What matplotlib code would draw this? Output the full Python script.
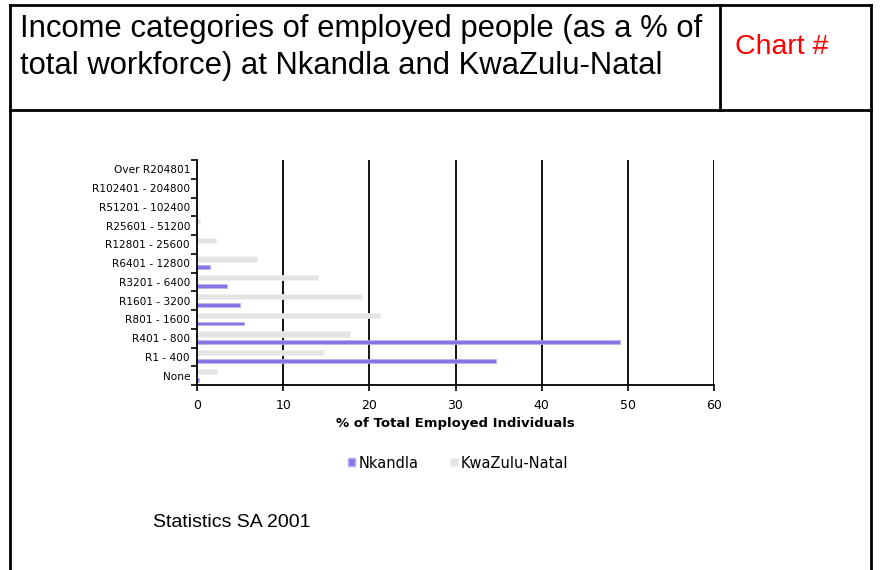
import matplotlib
matplotlib.use("Agg")
import matplotlib.pyplot as plt
import numpy as np
from matplotlib.lines import Line2D
from matplotlib.patches import Patch

categories = [
    "None", "R1 - 400", "R401 - 800", "R801 - 1600", "R1601 - 3200",
    "R3201 - 6400", "R6401 - 12800", "R12801 - 25600", "R25601 - 51200",
    "R51201 - 102400", "R102401 - 204800", "Over R204801",
]
nkandla = [0.2, 34.7, 49.1, 5.4, 5.0, 3.5, 1.5, 0.0, 0.0, 0.0, 0.0, 0.0]
kzn = [2.3, 14.7, 17.8, 21.2, 19.2, 14.1, 7.0, 2.2, 0.3, 0.1, 0.0, 0.0]
xticks = [0, 10, 20, 30, 40, 50, 60]

W, H = 880, 570
fig = plt.figure(figsize=(W / 100, H / 100), dpi=100)


def fx(px):
    return px / W


def fy(py):
    return 1 - py / H


# frame of the table
lw = 2.0
for (x0, y0, x1, y1) in [
    (10, 5, 871, 5), (10, 5, 10, 570), (871, 5, 871, 570),
    (10, 110, 871, 110), (720, 5, 720, 110),
]:
    fig.add_artist(Line2D([fx(x0), fx(x1)], [fy(y0), fy(y1)],
                          transform=fig.transFigure, color="black", lw=lw))

title_font = ["Liberation Sans", "DejaVu Sans"]
fig.text(fx(20), fy(37), "Income categories of employed people (as a % of",
         fontsize=22.3, family=title_font, va="baseline", ha="left")
fig.text(fx(20), fy(74), "total workforce) at Nkandla and KwaZulu-Natal",
         fontsize=22.3, family=title_font, va="baseline", ha="left")
fig.text(fx(735), fy(54), "Chart #", fontsize=20.5, family=title_font,
         color="red", va="baseline", ha="left")
fig.text(fx(153), fy(527), "Statistics SA 2001", fontsize=14,
         family=title_font, va="baseline", ha="left")

ax = fig.add_axes([fx(197), fy(385), fx(714 - 197), (385 - 160) / H])
y = np.arange(len(categories))
ax.barh(y + 0.22, kzn, height=0.28, color="#e4e4e4", edgecolor="#f0f0f0", lw=0.5)
ax.barh(y - 0.22, nkandla, height=0.2, color="#8676e4", edgecolor="#b8b0f0", lw=0.5)

ax.set_xlim(0, 60)
ax.set_ylim(-0.5, len(categories) - 0.5)
ax.set_xticks(xticks)
ax.set_xticklabels([str(t) for t in xticks], fontsize=9)
ax.set_yticks(y)
ax.set_yticklabels(categories, fontsize=7.6)
ax.set_yticks(np.arange(-0.5, len(categories), 1.0), minor=True)
ax.tick_params(axis="y", which="major", length=0, pad=5)
ax.tick_params(axis="y", which="minor", length=4, width=1.2)
ax.tick_params(axis="x", which="major", length=4, width=1.2, pad=6)

ax.set_xlabel("% of Total Employed Individuals", fontsize=9.5, fontweight="bold",
              labelpad=4)
for v in xticks[1:]:
    ax.axvline(v, color="black", lw=1.3, zorder=0.5)
for s in ["top", "right"]:
    ax.spines[s].set_visible(False)
ax.spines["left"].set_linewidth(1.3)
ax.spines["bottom"].set_linewidth(1.3)

handles = [Patch(facecolor="#8676e4", edgecolor="#b8b0f0"),
           Patch(facecolor="#e4e4e4", edgecolor="#f0f0f0")]
fig.legend(handles, ["Nkandla", "KwaZulu-Natal"], loc="center",
           bbox_to_anchor=(fx(458), fy(463)), ncol=2, frameon=False,
           fontsize=10.5, handlelength=0.5, handleheight=0.5, handletextpad=0.2,
           columnspacing=2.2)

fig.savefig("out.png", dpi=100)
